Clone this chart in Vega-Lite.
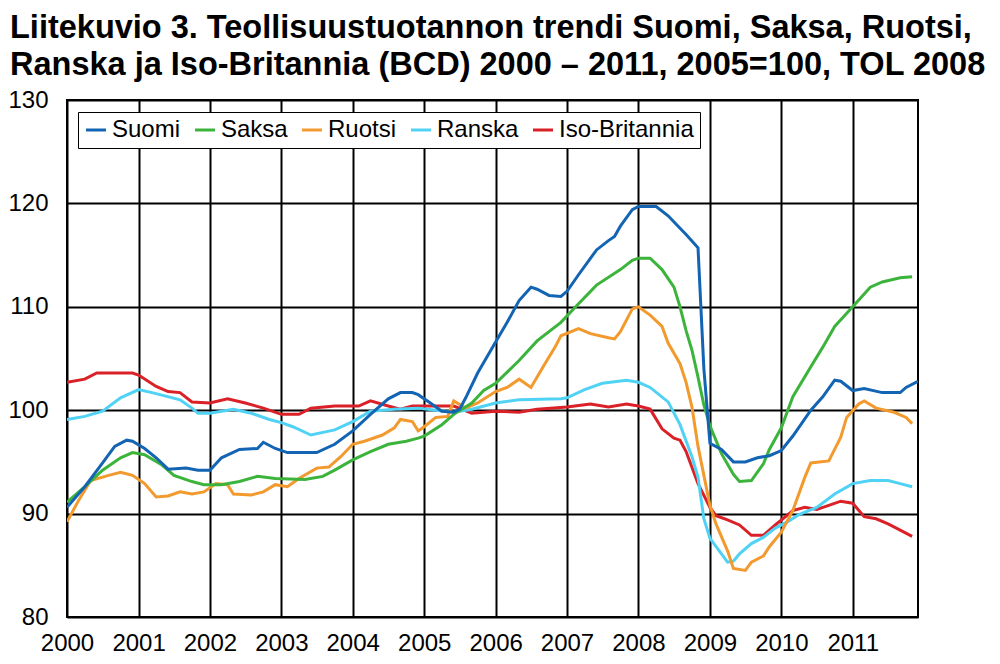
{
  "$schema": "https://vega.github.io/schema/vega-lite/v6.json",
  "width": 851,
  "height": 517,
  "autosize": "none",
  "padding": {"left": 67, "top": 100, "right": 82, "bottom": 47},
  "background": "white",
  "title": {
    "text": ["Liitekuvio 3. Teollisuustuotannon trendi Suomi, Saksa, Ruotsi,", "Ranska ja Iso-Britannia (BCD) 2000 – 2011, 2005=100, TOL 2008"],
    "anchor": "start",
    "frame": "group",
    "font": "Liberation Sans",
    "fontSize": 32.5,
    "fontWeight": "bold",
    "color": "black",
    "lineHeight": 37,
    "baseline": "top",
    "dx": -57,
    "offset": 7
  },
  "config": {
    "view": {"stroke": "black", "strokeWidth": 2},
    "axis": {"labelFont": "Liberation Sans", "labelFontSize": 24, "labelColor": "black", "domain": false, "ticks": false, "grid": true, "gridColor": "black", "gridWidth": 2, "gridOpacity": 1, "title": null}
  },
  "data": {
    "format": {"parse": {"d": "utc:'%Y-%m'"}},
    "values": [
      {"s":"Iso-Britannia","d":"2000-01","v":102.7},
      {"s":"Iso-Britannia","d":"2000-04","v":103.0},
      {"s":"Iso-Britannia","d":"2000-06","v":103.6},
      {"s":"Iso-Britannia","d":"2000-09","v":103.6},
      {"s":"Iso-Britannia","d":"2000-12","v":103.6},
      {"s":"Iso-Britannia","d":"2001-01","v":103.4},
      {"s":"Iso-Britannia","d":"2001-04","v":102.3},
      {"s":"Iso-Britannia","d":"2001-06","v":101.8},
      {"s":"Iso-Britannia","d":"2001-08","v":101.7},
      {"s":"Iso-Britannia","d":"2001-10","v":100.8},
      {"s":"Iso-Britannia","d":"2002-01","v":100.7},
      {"s":"Iso-Britannia","d":"2002-04","v":101.1},
      {"s":"Iso-Britannia","d":"2002-07","v":100.7},
      {"s":"Iso-Britannia","d":"2002-10","v":100.2},
      {"s":"Iso-Britannia","d":"2003-01","v":99.6},
      {"s":"Iso-Britannia","d":"2003-04","v":99.6},
      {"s":"Iso-Britannia","d":"2003-06","v":100.2},
      {"s":"Iso-Britannia","d":"2003-10","v":100.4},
      {"s":"Iso-Britannia","d":"2004-02","v":100.4},
      {"s":"Iso-Britannia","d":"2004-04","v":100.9},
      {"s":"Iso-Britannia","d":"2004-07","v":100.4},
      {"s":"Iso-Britannia","d":"2004-09","v":100.1},
      {"s":"Iso-Britannia","d":"2004-11","v":100.4},
      {"s":"Iso-Britannia","d":"2005-03","v":100.4},
      {"s":"Iso-Britannia","d":"2005-06","v":100.4},
      {"s":"Iso-Britannia","d":"2005-09","v":99.7},
      {"s":"Iso-Britannia","d":"2006-01","v":99.9},
      {"s":"Iso-Britannia","d":"2006-05","v":99.8},
      {"s":"Iso-Britannia","d":"2006-08","v":100.1},
      {"s":"Iso-Britannia","d":"2007-01","v":100.3},
      {"s":"Iso-Britannia","d":"2007-05","v":100.6},
      {"s":"Iso-Britannia","d":"2007-08","v":100.3},
      {"s":"Iso-Britannia","d":"2007-11","v":100.6},
      {"s":"Iso-Britannia","d":"2008-01","v":100.4},
      {"s":"Iso-Britannia","d":"2008-03","v":100.1},
      {"s":"Iso-Britannia","d":"2008-05","v":98.2},
      {"s":"Iso-Britannia","d":"2008-07","v":97.3},
      {"s":"Iso-Britannia","d":"2008-08","v":97.1},
      {"s":"Iso-Britannia","d":"2008-09","v":96.0},
      {"s":"Iso-Britannia","d":"2008-11","v":92.9},
      {"s":"Iso-Britannia","d":"2009-01","v":90.6},
      {"s":"Iso-Britannia","d":"2009-02","v":89.8},
      {"s":"Iso-Britannia","d":"2009-04","v":89.4},
      {"s":"Iso-Britannia","d":"2009-06","v":88.9},
      {"s":"Iso-Britannia","d":"2009-08","v":87.9},
      {"s":"Iso-Britannia","d":"2009-10","v":87.9},
      {"s":"Iso-Britannia","d":"2009-12","v":88.9},
      {"s":"Iso-Britannia","d":"2010-03","v":90.3},
      {"s":"Iso-Britannia","d":"2010-05","v":90.6},
      {"s":"Iso-Britannia","d":"2010-07","v":90.4},
      {"s":"Iso-Britannia","d":"2010-09","v":90.8},
      {"s":"Iso-Britannia","d":"2010-11","v":91.2},
      {"s":"Iso-Britannia","d":"2011-01","v":91.0},
      {"s":"Iso-Britannia","d":"2011-03","v":89.7},
      {"s":"Iso-Britannia","d":"2011-05","v":89.5},
      {"s":"Iso-Britannia","d":"2011-07","v":89.0},
      {"s":"Iso-Britannia","d":"2011-09","v":88.4},
      {"s":"Iso-Britannia","d":"2011-11","v":87.8},

      {"s":"Ranska","d":"2000-01","v":99.1},
      {"s":"Ranska","d":"2000-04","v":99.4},
      {"s":"Ranska","d":"2000-07","v":99.9},
      {"s":"Ranska","d":"2000-10","v":101.2},
      {"s":"Ranska","d":"2001-01","v":102.0},
      {"s":"Ranska","d":"2001-04","v":101.6},
      {"s":"Ranska","d":"2001-08","v":101.0},
      {"s":"Ranska","d":"2001-10","v":100.2},
      {"s":"Ranska","d":"2001-11","v":99.7},
      {"s":"Ranska","d":"2002-01","v":99.7},
      {"s":"Ranska","d":"2002-05","v":100.1},
      {"s":"Ranska","d":"2002-08","v":99.7},
      {"s":"Ranska","d":"2002-11","v":99.1},
      {"s":"Ranska","d":"2003-01","v":98.8},
      {"s":"Ranska","d":"2003-03","v":98.4},
      {"s":"Ranska","d":"2003-06","v":97.6},
      {"s":"Ranska","d":"2003-10","v":98.1},
      {"s":"Ranska","d":"2004-01","v":98.9},
      {"s":"Ranska","d":"2004-04","v":99.9},
      {"s":"Ranska","d":"2004-08","v":100.1},
      {"s":"Ranska","d":"2004-12","v":100.2},
      {"s":"Ranska","d":"2005-03","v":100.0},
      {"s":"Ranska","d":"2005-06","v":99.8},
      {"s":"Ranska","d":"2005-09","v":100.1},
      {"s":"Ranska","d":"2006-01","v":100.7},
      {"s":"Ranska","d":"2006-05","v":101.0},
      {"s":"Ranska","d":"2006-12","v":101.1},
      {"s":"Ranska","d":"2007-01","v":101.2},
      {"s":"Ranska","d":"2007-04","v":102.0},
      {"s":"Ranska","d":"2007-07","v":102.6},
      {"s":"Ranska","d":"2007-11","v":102.9},
      {"s":"Ranska","d":"2008-01","v":102.7},
      {"s":"Ranska","d":"2008-03","v":102.2},
      {"s":"Ranska","d":"2008-06","v":100.8},
      {"s":"Ranska","d":"2008-08","v":98.6},
      {"s":"Ranska","d":"2008-10","v":95.5},
      {"s":"Ranska","d":"2008-11","v":93.5},
      {"s":"Ranska","d":"2008-12","v":89.5},
      {"s":"Ranska","d":"2009-01","v":87.6},
      {"s":"Ranska","d":"2009-03","v":86.1},
      {"s":"Ranska","d":"2009-04","v":85.3},
      {"s":"Ranska","d":"2009-05","v":85.4},
      {"s":"Ranska","d":"2009-06","v":86.1},
      {"s":"Ranska","d":"2009-08","v":87.1},
      {"s":"Ranska","d":"2009-10","v":87.7},
      {"s":"Ranska","d":"2009-12","v":88.6},
      {"s":"Ranska","d":"2010-02","v":89.2},
      {"s":"Ranska","d":"2010-04","v":89.9},
      {"s":"Ranska","d":"2010-07","v":90.6},
      {"s":"Ranska","d":"2010-10","v":91.9},
      {"s":"Ranska","d":"2011-01","v":92.9},
      {"s":"Ranska","d":"2011-04","v":93.2},
      {"s":"Ranska","d":"2011-07","v":93.2},
      {"s":"Ranska","d":"2011-09","v":92.9},
      {"s":"Ranska","d":"2011-11","v":92.6},

      {"s":"Ruotsi","d":"2000-01","v":89.2},
      {"s":"Ruotsi","d":"2000-03","v":91.3},
      {"s":"Ruotsi","d":"2000-05","v":93.2},
      {"s":"Ruotsi","d":"2000-08","v":93.7},
      {"s":"Ruotsi","d":"2000-10","v":94.0},
      {"s":"Ruotsi","d":"2000-12","v":93.7},
      {"s":"Ruotsi","d":"2001-02","v":92.9},
      {"s":"Ruotsi","d":"2001-04","v":91.6},
      {"s":"Ruotsi","d":"2001-06","v":91.7},
      {"s":"Ruotsi","d":"2001-08","v":92.1},
      {"s":"Ruotsi","d":"2001-10","v":91.9},
      {"s":"Ruotsi","d":"2001-12","v":92.1},
      {"s":"Ruotsi","d":"2002-02","v":92.9},
      {"s":"Ruotsi","d":"2002-04","v":92.8},
      {"s":"Ruotsi","d":"2002-05","v":91.9},
      {"s":"Ruotsi","d":"2002-08","v":91.8},
      {"s":"Ruotsi","d":"2002-10","v":92.1},
      {"s":"Ruotsi","d":"2002-12","v":92.8},
      {"s":"Ruotsi","d":"2003-02","v":92.6},
      {"s":"Ruotsi","d":"2003-04","v":93.4},
      {"s":"Ruotsi","d":"2003-07","v":94.4},
      {"s":"Ruotsi","d":"2003-09","v":94.5},
      {"s":"Ruotsi","d":"2003-11","v":95.5},
      {"s":"Ruotsi","d":"2004-01","v":96.7},
      {"s":"Ruotsi","d":"2004-03","v":97.0},
      {"s":"Ruotsi","d":"2004-06","v":97.6},
      {"s":"Ruotsi","d":"2004-08","v":98.3},
      {"s":"Ruotsi","d":"2004-09","v":99.1},
      {"s":"Ruotsi","d":"2004-11","v":98.9},
      {"s":"Ruotsi","d":"2004-12","v":98.0},
      {"s":"Ruotsi","d":"2005-01","v":98.4},
      {"s":"Ruotsi","d":"2005-03","v":99.3},
      {"s":"Ruotsi","d":"2005-05","v":99.4},
      {"s":"Ruotsi","d":"2005-06","v":100.9},
      {"s":"Ruotsi","d":"2005-08","v":100.2},
      {"s":"Ruotsi","d":"2005-10","v":100.7},
      {"s":"Ruotsi","d":"2006-01","v":101.8},
      {"s":"Ruotsi","d":"2006-03","v":102.2},
      {"s":"Ruotsi","d":"2006-05","v":103.0},
      {"s":"Ruotsi","d":"2006-07","v":102.2},
      {"s":"Ruotsi","d":"2006-09","v":104.2},
      {"s":"Ruotsi","d":"2006-11","v":106.1},
      {"s":"Ruotsi","d":"2006-12","v":107.2},
      {"s":"Ruotsi","d":"2007-03","v":107.9},
      {"s":"Ruotsi","d":"2007-05","v":107.4},
      {"s":"Ruotsi","d":"2007-08","v":107.0},
      {"s":"Ruotsi","d":"2007-09","v":106.9},
      {"s":"Ruotsi","d":"2007-10","v":107.6},
      {"s":"Ruotsi","d":"2007-12","v":109.8},
      {"s":"Ruotsi","d":"2008-01","v":110.0},
      {"s":"Ruotsi","d":"2008-03","v":109.2},
      {"s":"Ruotsi","d":"2008-05","v":108.1},
      {"s":"Ruotsi","d":"2008-06","v":106.5},
      {"s":"Ruotsi","d":"2008-08","v":104.5},
      {"s":"Ruotsi","d":"2008-09","v":102.7},
      {"s":"Ruotsi","d":"2008-10","v":100.3},
      {"s":"Ruotsi","d":"2008-11","v":96.5},
      {"s":"Ruotsi","d":"2009-01","v":90.8},
      {"s":"Ruotsi","d":"2009-02","v":89.0},
      {"s":"Ruotsi","d":"2009-04","v":86.4},
      {"s":"Ruotsi","d":"2009-05","v":84.7},
      {"s":"Ruotsi","d":"2009-07","v":84.5},
      {"s":"Ruotsi","d":"2009-08","v":85.3},
      {"s":"Ruotsi","d":"2009-10","v":85.9},
      {"s":"Ruotsi","d":"2009-11","v":86.8},
      {"s":"Ruotsi","d":"2010-01","v":88.2},
      {"s":"Ruotsi","d":"2010-03","v":90.3},
      {"s":"Ruotsi","d":"2010-05","v":93.5},
      {"s":"Ruotsi","d":"2010-06","v":94.9},
      {"s":"Ruotsi","d":"2010-09","v":95.1},
      {"s":"Ruotsi","d":"2010-11","v":97.4},
      {"s":"Ruotsi","d":"2010-12","v":99.3},
      {"s":"Ruotsi","d":"2011-02","v":100.6},
      {"s":"Ruotsi","d":"2011-03","v":100.9},
      {"s":"Ruotsi","d":"2011-05","v":100.2},
      {"s":"Ruotsi","d":"2011-08","v":99.8},
      {"s":"Ruotsi","d":"2011-10","v":99.3},
      {"s":"Ruotsi","d":"2011-11","v":98.7},

      {"s":"Saksa","d":"2000-01","v":91.1},
      {"s":"Saksa","d":"2000-04","v":92.6},
      {"s":"Saksa","d":"2000-07","v":94.2},
      {"s":"Saksa","d":"2000-10","v":95.4},
      {"s":"Saksa","d":"2000-12","v":95.9},
      {"s":"Saksa","d":"2001-02","v":95.7},
      {"s":"Saksa","d":"2001-05","v":94.7},
      {"s":"Saksa","d":"2001-07","v":93.7},
      {"s":"Saksa","d":"2001-10","v":93.1},
      {"s":"Saksa","d":"2001-12","v":92.8},
      {"s":"Saksa","d":"2002-03","v":92.8},
      {"s":"Saksa","d":"2002-06","v":93.1},
      {"s":"Saksa","d":"2002-09","v":93.6},
      {"s":"Saksa","d":"2002-12","v":93.4},
      {"s":"Saksa","d":"2003-05","v":93.3},
      {"s":"Saksa","d":"2003-08","v":93.6},
      {"s":"Saksa","d":"2003-10","v":94.2},
      {"s":"Saksa","d":"2004-01","v":95.2},
      {"s":"Saksa","d":"2004-04","v":96.0},
      {"s":"Saksa","d":"2004-07","v":96.7},
      {"s":"Saksa","d":"2004-10","v":97.0},
      {"s":"Saksa","d":"2004-12","v":97.3},
      {"s":"Saksa","d":"2005-01","v":97.5},
      {"s":"Saksa","d":"2005-04","v":98.6},
      {"s":"Saksa","d":"2005-06","v":99.6},
      {"s":"Saksa","d":"2005-09","v":100.7},
      {"s":"Saksa","d":"2005-11","v":101.9},
      {"s":"Saksa","d":"2006-01","v":102.6},
      {"s":"Saksa","d":"2006-05","v":104.8},
      {"s":"Saksa","d":"2006-08","v":106.7},
      {"s":"Saksa","d":"2006-12","v":108.5},
      {"s":"Saksa","d":"2007-03","v":110.3},
      {"s":"Saksa","d":"2007-06","v":112.1},
      {"s":"Saksa","d":"2007-10","v":113.6},
      {"s":"Saksa","d":"2007-12","v":114.5},
      {"s":"Saksa","d":"2008-01","v":114.7},
      {"s":"Saksa","d":"2008-03","v":114.7},
      {"s":"Saksa","d":"2008-05","v":113.6},
      {"s":"Saksa","d":"2008-07","v":111.9},
      {"s":"Saksa","d":"2008-08","v":110.0},
      {"s":"Saksa","d":"2008-09","v":107.7},
      {"s":"Saksa","d":"2008-10","v":105.8},
      {"s":"Saksa","d":"2008-11","v":103.2},
      {"s":"Saksa","d":"2008-12","v":100.5},
      {"s":"Saksa","d":"2009-01","v":98.5},
      {"s":"Saksa","d":"2009-03","v":95.8},
      {"s":"Saksa","d":"2009-05","v":93.8},
      {"s":"Saksa","d":"2009-06","v":93.1},
      {"s":"Saksa","d":"2009-08","v":93.2},
      {"s":"Saksa","d":"2009-10","v":94.8},
      {"s":"Saksa","d":"2009-11","v":96.2},
      {"s":"Saksa","d":"2010-01","v":98.3},
      {"s":"Saksa","d":"2010-03","v":101.3},
      {"s":"Saksa","d":"2010-06","v":104.2},
      {"s":"Saksa","d":"2010-08","v":106.1},
      {"s":"Saksa","d":"2010-10","v":108.1},
      {"s":"Saksa","d":"2011-01","v":110.0},
      {"s":"Saksa","d":"2011-04","v":111.9},
      {"s":"Saksa","d":"2011-06","v":112.4},
      {"s":"Saksa","d":"2011-09","v":112.8},
      {"s":"Saksa","d":"2011-11","v":112.9},

      {"s":"Suomi","d":"2000-01","v":90.6},
      {"s":"Suomi","d":"2000-04","v":92.6},
      {"s":"Suomi","d":"2000-07","v":94.9},
      {"s":"Suomi","d":"2000-09","v":96.5},
      {"s":"Suomi","d":"2000-11","v":97.1},
      {"s":"Suomi","d":"2000-12","v":97.0},
      {"s":"Suomi","d":"2001-02","v":96.3},
      {"s":"Suomi","d":"2001-04","v":95.4},
      {"s":"Suomi","d":"2001-06","v":94.3},
      {"s":"Suomi","d":"2001-09","v":94.4},
      {"s":"Suomi","d":"2001-11","v":94.2},
      {"s":"Suomi","d":"2002-01","v":94.2},
      {"s":"Suomi","d":"2002-03","v":95.4},
      {"s":"Suomi","d":"2002-06","v":96.2},
      {"s":"Suomi","d":"2002-09","v":96.3},
      {"s":"Suomi","d":"2002-10","v":96.9},
      {"s":"Suomi","d":"2002-12","v":96.3},
      {"s":"Suomi","d":"2003-02","v":95.9},
      {"s":"Suomi","d":"2003-07","v":95.9},
      {"s":"Suomi","d":"2003-10","v":96.7},
      {"s":"Suomi","d":"2004-01","v":98.0},
      {"s":"Suomi","d":"2004-04","v":99.6},
      {"s":"Suomi","d":"2004-07","v":101.1},
      {"s":"Suomi","d":"2004-09","v":101.7},
      {"s":"Suomi","d":"2004-11","v":101.7},
      {"s":"Suomi","d":"2004-12","v":101.5},
      {"s":"Suomi","d":"2005-02","v":100.7},
      {"s":"Suomi","d":"2005-04","v":99.9},
      {"s":"Suomi","d":"2005-06","v":99.8},
      {"s":"Suomi","d":"2005-07","v":100.1},
      {"s":"Suomi","d":"2005-08","v":101.2},
      {"s":"Suomi","d":"2005-10","v":103.6},
      {"s":"Suomi","d":"2006-01","v":106.6},
      {"s":"Suomi","d":"2006-03","v":108.5},
      {"s":"Suomi","d":"2006-05","v":110.6},
      {"s":"Suomi","d":"2006-07","v":111.9},
      {"s":"Suomi","d":"2006-08","v":111.7},
      {"s":"Suomi","d":"2006-10","v":111.1},
      {"s":"Suomi","d":"2006-12","v":111.0},
      {"s":"Suomi","d":"2007-01","v":111.5},
      {"s":"Suomi","d":"2007-03","v":113.1},
      {"s":"Suomi","d":"2007-06","v":115.5},
      {"s":"Suomi","d":"2007-08","v":116.4},
      {"s":"Suomi","d":"2007-09","v":116.8},
      {"s":"Suomi","d":"2007-10","v":117.8},
      {"s":"Suomi","d":"2007-12","v":119.4},
      {"s":"Suomi","d":"2008-01","v":119.7},
      {"s":"Suomi","d":"2008-04","v":119.7},
      {"s":"Suomi","d":"2008-06","v":118.8},
      {"s":"Suomi","d":"2008-08","v":117.6},
      {"s":"Suomi","d":"2008-09","v":117.0},
      {"s":"Suomi","d":"2008-11","v":115.7},
      {"s":"Suomi","d":"2008-12","v":104.0},
      {"s":"Suomi","d":"2009-01","v":96.8},
      {"s":"Suomi","d":"2009-03","v":96.2},
      {"s":"Suomi","d":"2009-05","v":95.0},
      {"s":"Suomi","d":"2009-07","v":95.0},
      {"s":"Suomi","d":"2009-09","v":95.4},
      {"s":"Suomi","d":"2009-11","v":95.6},
      {"s":"Suomi","d":"2010-01","v":96.1},
      {"s":"Suomi","d":"2010-03","v":97.5},
      {"s":"Suomi","d":"2010-06","v":100.0},
      {"s":"Suomi","d":"2010-08","v":101.3},
      {"s":"Suomi","d":"2010-10","v":102.9},
      {"s":"Suomi","d":"2010-11","v":102.8},
      {"s":"Suomi","d":"2011-01","v":101.9},
      {"s":"Suomi","d":"2011-03","v":102.1},
      {"s":"Suomi","d":"2011-06","v":101.7},
      {"s":"Suomi","d":"2011-09","v":101.7},
      {"s":"Suomi","d":"2011-10","v":102.2},
      {"s":"Suomi","d":"2011-12","v":102.8}
    ]
  },
  "mark": {"type": "line", "strokeWidth": 3, "clip": true},
  "encoding": {
    "x": {
      "field": "d",
      "type": "temporal",
      "scale": {"type": "utc", "domain": [{"year": 2000, "month": 1, "date": 1, "utc": true}, {"year": 2011, "month": 12, "date": 1, "utc": true}], "nice": false},
      "axis": {"format": "%Y", "formatType": "utc", "tickCount": {"interval": "year", "step": 1}, "labelFlush": false, "labelOverlap": false, "labelPadding": 14}
    },
    "y": {
      "field": "v",
      "type": "quantitative",
      "scale": {"domain": [80, 130], "nice": false, "zero": false},
      "axis": {"values": [80, 90, 100, 110, 120, 130], "labelPadding": 19}
    },
    "color": {
      "field": "s",
      "type": "nominal",
      "sort": ["Suomi", "Saksa", "Ruotsi", "Ranska", "Iso-Britannia"],
      "scale": {"domain": ["Suomi", "Saksa", "Ruotsi", "Ranska", "Iso-Britannia"], "range": ["#1464b4", "#3cb43c", "#f29a2e", "#50d2f5", "#da2128"]},
      "legend": {
        "title": null,
        "orient": "none",
        "legendX": 11,
        "legendY": 12,
        "direction": "horizontal",
        "fillColor": "white",
        "strokeColor": "black",
        "padding": 6,
        "symbolType": "stroke",
        "symbolSize": 400,
        "symbolStrokeWidth": 3,
        "labelFont": "Liberation Sans",
        "labelFontSize": 24,
        "labelColor": "black",
        "labelOffset": 4,
        "columnPadding": 8
      }
    }
  }
}
